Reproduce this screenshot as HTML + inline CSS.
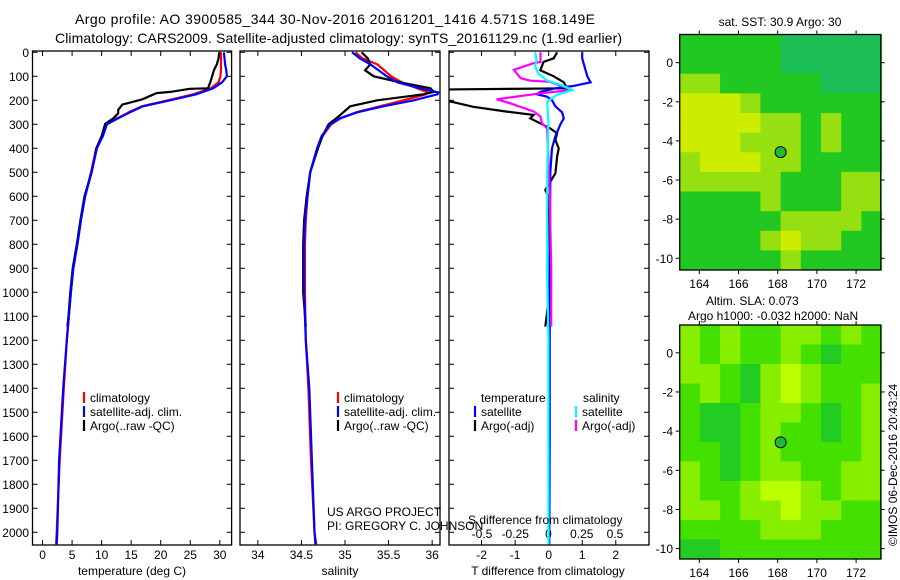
<!DOCTYPE html>
<html><head><meta charset="utf-8"><style>
html,body{margin:0;padding:0;background:#fff}
svg{display:block;font-family:"Liberation Sans",sans-serif}
</style></head><body>
<svg id="c" width="900" height="580" viewBox="0 0 900 580">
<text x="75" y="24" font-size="14" textLength="520">Argo profile: AO 3900585_344 30-Nov-2016 20161201_1416 4.571S 168.149E</text>
<text x="55" y="43" font-size="14" textLength="567">Climatology: CARS2009. Satellite-adjusted climatology: synTS_20161129.nc (1.9d earlier)</text>
</svg>
<script>
// ---- data ----
const depthTicks=[0,100,200,300,400,500,600,700,800,900,1000,1100,1200,1300,1400,1500,1600,1700,1800,1900,2000];
const tempTicks=[0,5,10,15,20,25,30];
const salTicks=[34,34.5,35,35.5,36];
const salTickLabels=["34","34.5","35","35.5","36"];
const tdTicks=[-2,-1,0,1,2];
const sdTicks=[-0.5,-0.25,0,0.25,0.5];
const sdTickLabels=["-0.5","-0.25","0","0.25","0.5"];
const climDepth=[0,25,50,75,100,125,150,175,200,225,250,275,300,350,400,500,600,700,800,900,1000,1200,1400,1700,2000,2050];
const tempSat=[30.7,30.8,30.9,31.1,31.2,30.4,28.9,26.0,21.6,17.0,14.8,12.8,10.9,10.2,9.2,8.3,7.2,6.5,5.9,5.2,4.8,4.1,3.5,2.8,2.5,2.4];
const tempClim=[30.2,30.2,30.2,30.2,30.1,29.8,28.5,25.5,21.2,16.8,14.6,12.6,10.8,10.0,9.1,8.2,7.2,6.5,5.9,5.2,4.8,4.1,3.6,2.9,2.4,2.3];
const argoDepth=[0,25,50,75,100,125,150,152,165,170,196,218,240,254,275,298,350,400,500,600,700,800,900,1000,1100,1143];
const tempArgo=[29.9,29.8,29.5,29.0,28.7,28.4,28.0,24.9,21.6,19.3,16.9,13.5,12.8,12.8,12.0,10.6,10.0,9.1,8.3,7.1,6.4,5.8,5.1,4.7,4.4,4.2];
const salDepth=[0,25,50,100,125,150,167,175,200,225,250,275,300,350,400,500,600,700,800,1000,1200,1400,1700,2000,2050];
const salSat=[35.08,35.17,35.29,35.48,35.6,35.86,36.07,36.06,35.79,35.44,35.14,34.94,34.83,34.73,34.68,34.6,34.57,34.54,34.53,34.53,34.55,34.59,34.62,34.65,34.66];
const salClim=[35.12,35.2,35.37,35.53,35.65,35.83,35.95,35.93,35.67,35.4,35.13,34.95,34.84,34.74,34.68,34.6,34.57,34.55,34.54,34.54,34.55,34.58,34.61,34.65,34.67];
const salArgoDepth=[0,25,50,75,100,125,150,165,175,200,225,250,275,300,350,400,500,600,700,800,1000,1143];
const salArgo=[35.19,35.26,35.29,35.23,35.33,35.63,35.98,36.02,35.9,35.37,35.06,34.98,34.9,34.81,34.74,34.69,34.6,34.56,34.53,34.52,34.52,34.55];
const tdSatDepth=[0,25,50,75,100,125,140,150,165,175,185,200,225,250,275,300,350,400,500,800,1200,1600,2050];
const tdSat=[1.0,1.0,1.05,1.1,1.15,1.25,0.75,0.2,-0.25,-0.35,-0.05,0.1,0.2,0.4,0.45,0.35,0.2,0.1,0.05,0.04,0.03,0.03,0.02];
const tdArgoDepth=[0,25,40,75,100,125,150,155,200,206,227,247,261,275,296,317,338,365,400,435,504,574,602,800,1000,1143];
const tdArgo=[0.25,0.15,-0.15,-0.25,0.15,0.45,0.55,-3.2,-3.2,-2.9,-2.25,-1.25,-0.45,-0.55,-0.25,0.05,0.25,0.2,0.3,0.25,0.2,-0.1,0,0.03,0.03,-0.1];
const sdSatDepth=[0,29,60,90,118,139,157,178,206,296,504,921,1200,1600,2050];
const sdSat=[-0.1,-0.09,-0.1,-0.075,-0.01,0.11,0.18,0.06,-0.01,0,-0.01,-0.01,0,0,0];
const sdArgoDepth=[0,40,45,73,108,118,123,157,171,196,212,247,268,296,317,600,900,1143];
const sdArgo=[-0.06,-0.06,-0.11,-0.26,-0.21,-0.14,0.01,0.18,-0.06,-0.39,-0.29,-0.11,-0.06,-0.05,-0.01,0.01,0.02,0.02];
const sstLonEdges=[163.0,173.3];
const sstGrid=[
[1,1,1,1,1,0,0,0,0,0],[1,1,1,1,1,0,0,0,0,0],[2,2,1,1,1,1,1,0,0,0],[3,3,3,2,1,1,1,1,1,1],
[3,3,3,3,2,2,1,2,1,1],[3,3,3,2,2,2,1,2,1,1],[2,3,3,3,2,2,1,1,1,1],[2,2,2,2,2,1,1,1,2,2],
[1,1,1,1,2,1,1,1,2,2],[1,1,1,1,1,2,2,2,2,1],[1,1,1,1,2,3,2,2,1,1],[1,1,1,1,1,2,1,1,1,1]];
const slaGrid=[
[2,1,2,1,1,2,2,1,2,1],[2,1,2,1,1,2,1,0,1,1],[2,2,1,0,2,3,2,1,1,1],[1,2,1,0,2,3,2,1,1,2],
[1,0,0,1,2,2,1,0,1,2],[1,0,0,1,2,1,1,0,1,2],[1,1,0,1,2,1,1,1,1,2],[2,1,0,1,2,2,1,1,2,2],
[2,1,1,2,3,3,2,1,2,2],[2,2,1,2,2,3,2,2,1,1],[1,1,1,1,2,2,2,1,1,1],[0,0,1,1,1,1,1,1,1,1]];
const lonTicks=[164,166,168,170,172];
const latTicks=[0,-2,-4,-6,-8,-10];
const argoLon=168.149, argoLat=-4.571;

// ---- drawing ----
const svg=document.getElementById('c');
const NS='http://www.w3.org/2000/svg';
function mk(tag,attrs,parent){const e=document.createElementNS(NS,tag);for(const k in attrs)e.setAttribute(k,attrs[k]);(parent||svg).appendChild(e);return e;}
const Y=d=>52.3+0.24*d;
const TOP=51,BOT=545;
const panels=[
 {name:'temperature',l:32.5,r:231.6,x0:-1.7,x1:32.0},
 {name:'salinity',l:240,r:440,x0:33.795,x1:36.09},
 {name:'difference',l:449,r:649,x0:-2.97,x1:2.99}];
panels.forEach((p,i)=>{
 const cp=mk('clipPath',{id:'clip'+i});
 mk('rect',{x:p.l,y:TOP,width:p.r-p.l,height:BOT-TOP},cp);
 p.X=v=>p.l+(v-p.x0)/(p.x1-p.x0)*(p.r-p.l);
 const fr=mk('rect',{x:p.l,y:TOP,width:p.r-p.l,height:BOT-TOP,fill:'none',stroke:'#000','stroke-width':1.3});
 
 
 depthTicks.forEach(d=>{
  mk('line',{x1:p.l,x2:p.l+5,y1:Y(d),y2:Y(d),stroke:'#000'});
  mk('line',{x1:p.r-5,x2:p.r,y1:Y(d),y2:Y(d),stroke:'#000'});
 });
});
depthTicks.forEach(d=>{
 const t=mk('text',{x:29,y:Y(d)+4.5,'font-size':12,'text-anchor':'end'});
 t.textContent=d;
 
 
});
function xticks(p,vals,labels){
 vals.forEach((v,k)=>{
  const x=p.X(v);
  mk('line',{x1:x,x2:x,y1:TOP,y2:TOP+5,stroke:'#000'});
  mk('line',{x1:x,x2:x,y1:BOT-5,y2:BOT,stroke:'#000'});
  const t=mk('text',{x:x,y:559,'font-size':12,'text-anchor':'middle'});
  t.textContent=labels?labels[k]:v;
  
  
 });
}
xticks(panels[0],tempTicks);xticks(panels[1],salTicks,salTickLabels);xticks(panels[2],tdTicks);
const SX=v=>548.5+133*v;
sdTicks.forEach((v,k)=>{
 const t=mk('text',{x:SX(v),y:538,'font-size':12,'text-anchor':'middle'});
 t.textContent=sdTickLabels[k];
 
 
});
function line(i,X,depths,vals,color,name){
 const pts=depths.map((d,k)=>X(vals[k]).toFixed(1)+','+Y(d).toFixed(1)).join(' ');
 const e=mk('polyline',{points:pts,fill:'none',stroke:color,'stroke-width':2.2,'clip-path':'url(#clip'+i+')'});
 
 
}
const P0=panels[0],P1=panels[1],P2=panels[2];
line(0,P0.X,climDepth,tempClim,'#f00','temp-climatology-line');
line(0,P0.X,argoDepth,tempArgo,'#000','temp-argo-line');
line(0,P0.X,climDepth,tempSat,'#00f','temp-satellite-line');
line(1,P1.X,salDepth,salClim,'#f00','sal-climatology-line');
line(1,P1.X,salArgoDepth,salArgo,'#000','sal-argo-line');
line(1,P1.X,salDepth,salSat,'#00f','sal-satellite-line');
line(2,P2.X,tdArgoDepth,tdArgo,'#000','tdiff-argo-line');
line(2,P2.X,tdSatDepth,tdSat,'#00f','tdiff-satellite-line');
line(2,SX,sdArgoDepth,sdArgo,'#f0f','sdiff-argo-line');
line(2,SX,sdSatDepth,sdSat,'#0ff','sdiff-satellite-line');
function txt(x,y,s,name,opts){const t=mk('text',Object.assign({x:x,y:y,'font-size':12},opts||{}));t.textContent=s;
 
 return t;}
function leg(x,y,color,label,name){mk('line',{x1:x,x2:x,y1:y-10,y2:y+1,stroke:color,'stroke-width':2.2});txt(x+6,y,label,name);}
leg(84,402,'#f00','climatology','legend-climatology');
leg(84,416,'#00f','satellite-adj. clim.','legend-satellite-adj');
leg(84,430,'#000','Argo(..raw -QC)','legend-argo');
leg(338,402,'#f00','climatology','legend-climatology-2');
leg(338,416,'#00f','satellite-adj. clim.','legend-satellite-adj-2');
leg(338,430,'#000','Argo(..raw -QC)','legend-argo-2');
txt(481,402,'temperature','legend-temperature-header');
txt(583,402,'salinity','legend-salinity-header');
leg(475,416,'#00f','satellite','legend-t-satellite');
leg(475,430,'#000','Argo(-adj)','legend-t-argo');
leg(576,416,'#0ff','satellite','legend-s-satellite');
leg(576,430,'#f0f','Argo(-adj)','legend-s-argo');
txt(327,516,'US ARGO PROJECT','credit-project');
txt(327,530,'PI: GREGORY C. JOHNSON','credit-pi');
txt(468,524,'S difference from climatology','s-diff-axis-title');
txt(132,575,'temperature (deg C)','temp-axis-title',{'text-anchor':'middle'});
txt(340,575,'salinity','sal-axis-title',{'text-anchor':'middle'});
txt(548,575,'T difference from climatology','t-diff-axis-title',{'text-anchor':'middle'});

// maps
const sstColors=['#1cbf55','#22c822','#96e012','#ccec00'];
const slaColors=['#22cc22','#44e000','#88ee00','#bbff00'];
function map(idx,top,bot,latTop,latBot,grid,colors,labY,name){
 const L=679.7,R=880.7;
 const MX=lon=>699.3+(lon-164)*19.6;
 const MY=lat=>top+(latTop-lat)/(latTop-latBot)*(bot-top);
 const g=mk('g',{});
 
 
 const rows=grid.length,cols=grid[0].length;
 const dlon=(sstLonEdges[1]-sstLonEdges[0])/cols,dlat=(latTop-latBot)/rows;
 grid.forEach((row,j)=>row.forEach((v,i)=>{
  const x0=MX(sstLonEdges[0]+i*dlon),x1=MX(sstLonEdges[0]+(i+1)*dlon);
  const y0=MY(latTop-j*dlat),y1=MY(latTop-(j+1)*dlat);
  const c=mk('rect',{x:x0,y:y0,width:x1-x0+0.5,height:y1-y0+0.5,fill:colors[v]},g);
  
  
 }));
 mk('rect',{x:L,y:top,width:R-L,height:bot-top,fill:'none',stroke:'#000','stroke-width':1.3});
 lonTicks.forEach(lon=>{const x=MX(lon);mk('line',{x1:x,x2:x,y1:top-4,y2:top,stroke:'#000'});mk('line',{x1:x,x2:x,y1:bot,y2:bot+4,stroke:'#000'});
  txt(x,labY,String(lon),'map-lon-label',{'text-anchor':'middle'});});
 latTicks.forEach(lat=>{const y=MY(lat);mk('line',{x1:L-4,x2:L,y1:y,y2:y,stroke:'#000'});mk('line',{x1:R,x2:R+4,y1:y,y2:y,stroke:'#000'});
  txt(673,y+4.5,String(lat),'map-lat-label',{'text-anchor':'end'});});
 const m=mk('circle',{cx:MX(argoLon),cy:MY(argoLat),r:5.5,fill:'#22bb33',stroke:'#000','stroke-width':1});
 
 
}
map(0,34.5,270,1.44,-10.6,sstGrid,sstColors,288,'sst-map');
map(1,325,559,1.42,-10.53,slaGrid,slaColors,577,'sla-map');
txt(780,26,'sat. SST: 30.9 Argo: 30','sst-map-title',{'text-anchor':'middle'});
txt(706,305,'Altim. SLA: 0.073','sla-title');
txt(688,320,'Argo h1000: -0.032 h2000: NaN','sla-subtitle');
txt(0,0,'©IMOS 06-Dec-2016 20:43:24','imos-timestamp',{'text-anchor':'middle',transform:'translate(897,465) rotate(-90)'});
</script>
</body></html>
